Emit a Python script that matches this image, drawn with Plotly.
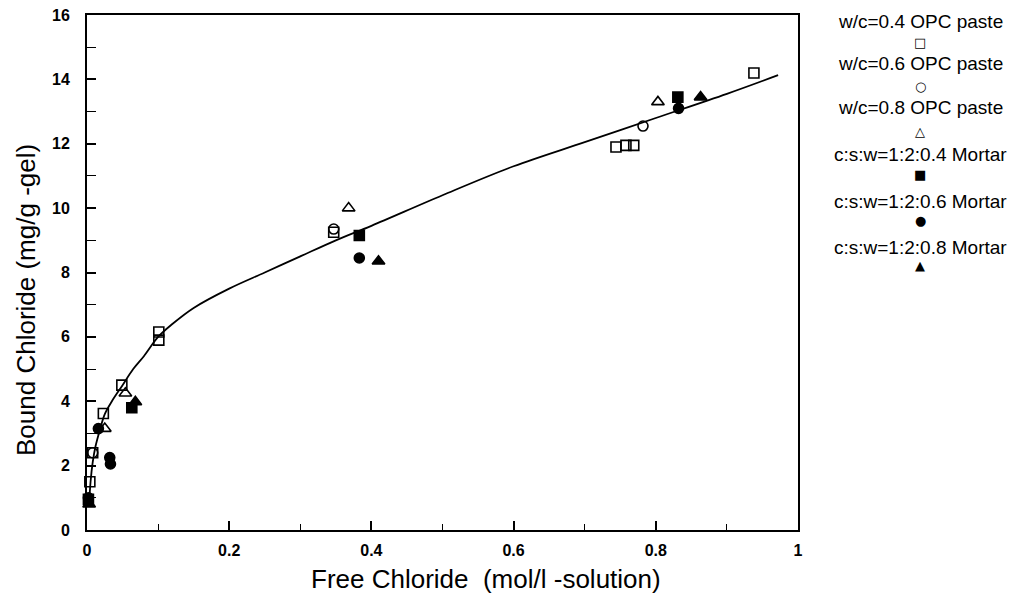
import plotly.graph_objects as go

# ---- data ----
wc04_x = [0.004, 0.008, 0.023, 0.049, 0.101, 0.101, 0.347, 0.744, 0.758, 0.769, 0.938]
wc04_y = [1.5, 2.4, 3.62, 4.5, 6.15, 5.9, 9.25, 11.9, 11.95, 11.95, 14.2]
wc06_x = [0.008, 0.347, 0.782]
wc06_y = [2.4, 9.35, 12.55]
wc08_x = [0.025, 0.054, 0.368, 0.803]
wc08_y = [3.15, 4.25, 10.0, 13.3]
m04_x = [0.002, 0.063, 0.383, 0.831]
m04_y = [0.95, 3.8, 9.15, 13.45]
m06_x = [0.002, 0.016, 0.032, 0.033, 0.383, 0.832]
m06_y = [1.0, 3.15, 2.25, 2.05, 8.45, 13.1]
m08_x = [0.003, 0.068, 0.41, 0.863]
m08_y = [0.8, 3.98, 8.35, 13.45]

fit_x = [0.003, 0.005, 0.008, 0.012, 0.018, 0.025, 0.035, 0.05, 0.065, 0.08, 0.1,
         0.12, 0.15, 0.2, 0.25, 0.3, 0.35, 0.4, 0.5, 0.6, 0.7, 0.8, 0.9, 0.972]
fit_y = [0.8, 1.5, 2.1, 2.6, 3.1, 3.6, 4.0, 4.5, 5.0, 5.4, 6.0,
         6.4, 6.9, 7.5, 8.0, 8.5, 9.0, 9.45, 10.4, 11.3, 12.05, 12.8, 13.55, 14.13]

series_names = ["w/c=0.4 OPC paste", "w/c=0.6 OPC paste", "w/c=0.8 OPC paste",
                "c:s:w=1:2:0.4 Mortar", "c:s:w=1:2:0.6 Mortar", "c:s:w=1:2:0.8 Mortar"]
legend_glyphs = ["□", "○", "△", "■", "●", "▲"]

x_tickvals = [0, 0.2, 0.4, 0.6, 0.8, 1]
x_ticktext = ["0", "0.2", "0.4", "0.6", "0.8", "1"]
y_tickvals = [0, 2, 4, 6, 8, 10, 12, 14, 16]

x_title = "Free Chloride  (mol/l -solution)"
y_title = "Bound Chloride (mg/g -gel)"

FONT = "Liberation Sans, Arial, Helvetica, sans-serif"

# plot area in page pixels (page has an 8px body margin)
L, T, PW, PH = 79, 7, 711, 515
W, H = 1012, 588

def px(ax):   # reference page x pixel -> paper x
    return (ax - 87) / PW

def py(ay):   # reference page y pixel -> paper y
    return (530 - ay) / PH

fig = go.Figure()

fig.add_trace(go.Scatter(x=fit_x, y=fit_y, mode="lines", line=dict(color="black", width=1.8, shape="spline"),
                         showlegend=False, hoverinfo="skip"))

styles = [
    (wc04_x, wc04_y, "square-open", 10),
    (wc06_x, wc06_y, "circle-open", 10),
    (wc08_x, wc08_y, "triangle-up-open", 11),
    (m04_x, m04_y, "square", 10),
    (m06_x, m06_y, "circle", 10),
    (m08_x, m08_y, "triangle-up", 11),
]
for (xs, ys, sym, sz), name in zip(styles, series_names):
    fig.add_trace(go.Scatter(x=xs, y=ys, mode="markers", name=name, cliponaxis=False,
                             marker=dict(symbol=sym, size=sz, color="black",
                                         line=dict(color="black", width=1.6)),
                             showlegend=False))

# custom legend: text with the marker glyph centred below it
text_centres = [22, 64, 108, 154, 201, 247]   # reference page pixels
glyph_centres = [42, 86, 131, 174, 220, 265]
for name, g, ty, gy in zip(series_names, legend_glyphs, text_centres, glyph_centres):
    fig.add_annotation(xref="paper", yref="paper", x=px(920), y=py(ty),
                       xanchor="center", yanchor="middle", showarrow=False,
                       text=name, font=dict(family=FONT, size=19, color="black"))
    fig.add_annotation(xref="paper", yref="paper", x=px(920), y=py(gy),
                       xanchor="center", yanchor="middle", showarrow=False,
                       text=g, font=dict(family="DejaVu Sans", size=13, color="black"))

# axis titles (offset from the axis centre as in the reference)
fig.add_annotation(xref="paper", yref="paper", x=px(486), y=py(579),
                   xanchor="center", yanchor="middle", showarrow=False,
                   text=x_title, font=dict(family=FONT, size=26, color="black"))
fig.add_annotation(xref="paper", yref="paper", x=px(26), y=py(300),
                   xanchor="center", yanchor="middle", showarrow=False, textangle=-90,
                   text=y_title, font=dict(family=FONT, size=26, color="black"))

fig.update_layout(
    width=W, height=H,
    margin=dict(l=L, r=W - L - PW, t=T, b=H - T - PH, autoexpand=False),
    paper_bgcolor="white", plot_bgcolor="white",
    font=dict(family=FONT, color="black"),
    xaxis=dict(range=[0, 1], tickvals=x_tickvals, ticktext=x_ticktext,
               ticks="inside", ticklen=9, tickwidth=1.5, tickcolor="black",
               minor=dict(dtick=0.1, ticks="inside", ticklen=6, tickwidth=1.2, tickcolor="black"),
               showline=True, linecolor="black", linewidth=2, mirror=True,
               showgrid=False, zeroline=False, ticklabelstandoff=5, ticklabeloverflow="allow",
               tickfont=dict(family=FONT, size=16, weight="bold")),
    yaxis=dict(range=[0, 16], tickvals=y_tickvals,
               ticks="inside", ticklen=9, tickwidth=1.5, tickcolor="black",
               minor=dict(dtick=1, ticks="inside", ticklen=9, tickwidth=1.2, tickcolor="black"),
               showline=True, linecolor="black", linewidth=2, mirror=True,
               showgrid=False, zeroline=False, ticklabelstandoff=12, ticklabeloverflow="allow",
               tickfont=dict(family=FONT, size=16, weight="bold")),
)

fig.write_html("out.html")
